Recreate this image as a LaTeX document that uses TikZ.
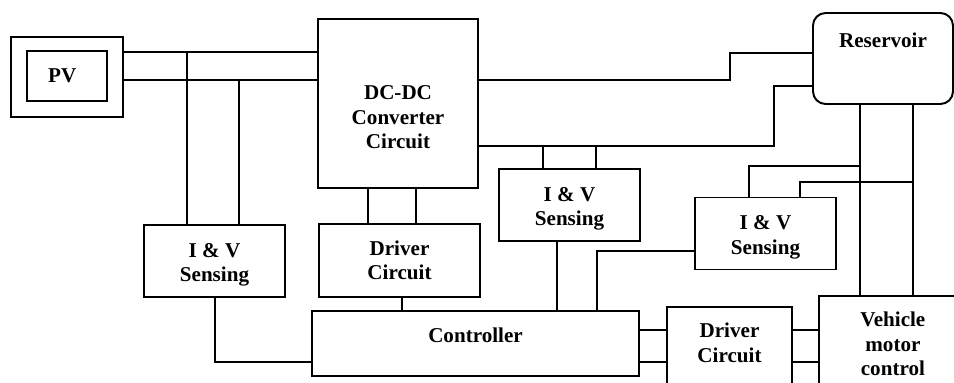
\documentclass[tikz,border=0pt]{standalone}
\usepackage{fontspec}
\setmainfont{Liberation Serif}
\usepackage{tikz}
\usetikzlibrary{positioning}

\begin{document}
\begin{tikzpicture}[
            x=0.025cm, y=-0.025cm, line width=1.4pt,
            % --- Styles for the nodes ---
            block/.style={
                draw, rectangle, line width=1.4pt, inner sep=2pt,
                align=center, font=\fontsize{15}{17.5}\selectfont\bfseries
            },
            txt/.style={align=center, font=\fontsize{15}{17.5}\selectfont\bfseries},
            sensebox/.style={block, minimum width=3.525cm, minimum height=1.8cm,
                label={[txt, yshift=-0.1cm]center:I \& V\\Sensing}}
        ]

        % --- Page frame ---
        \useasboundingbox (0,0) rectangle (954,382);
        \clip (0,0) rectangle (954,382);

        % --- Source and converter ---
        \node[block, minimum width=2.8cm, minimum height=2cm] (pvout) at (67,77) {};
        \node[block, minimum width=2cm, minimum height=1.25cm,
              label={[txt, xshift=-0.12cm]center:PV}] (pvin) at (67,76) {};
        \node[block, minimum width=4cm, minimum height=4.225cm,
              label={[txt, yshift=-0.35cm]center:DC-DC\\Converter\\Circuit}] (dcdc) at (398,103.5) {};
        \node[block, rounded corners=9pt, minimum width=3.5cm, minimum height=2.275cm,
              label={[txt, yshift=0.46cm]center:Reservoir}] (res) at (883,58.5) {};

        % --- Sensing and driver blocks ---
        \node[sensebox] (iv1) at (214.5,261) {};
        \node[block, minimum width=4.025cm, minimum height=1.825cm] (drv1) at (399.5,260.5) {Driver\\Circuit};
        \node[sensebox] (iv2) at (569.5,205) {};
        \node[sensebox] (iv3) at (765.5,233.5) {};

        % --- Bottom row ---
        \node[block, minimum width=8.175cm, minimum height=1.625cm,
              label={[txt, yshift=0.21cm]center:Controller}] (ctrl) at (475.5,343.5) {};
        \node[block, minimum width=3.125cm, minimum height=2.075cm,
              label={[txt, yshift=0.14cm]center:Driver\\Circuit}] (drv2) at (729.5,348.5) {};
        \node[block, minimum width=3.775cm, minimum height=2.6cm,
              label={[txt, yshift=0.1cm, xshift=-0.04cm]center:Vehicle\\motor\\control}] (vmc) at (894.5,348) {};

        % --- PV bus ---
        \coordinate (bushi) at (0,52);
        \coordinate (buslo) at (0,80);
        \draw (pvout.east |- bushi) -- (dcdc.west |- bushi);
        \draw (pvout.east |- buslo) -- (dcdc.west |- buslo);
        \draw (187,0 |- bushi) -- (187,0 |- iv1.north);
        \draw (239,0 |- buslo) -- (239,0 |- iv1.north);

        % --- Converter to reservoir ---
        \draw (dcdc.east |- buslo) -- (730,80) -- (730,53) -- (res.west |- 0,53);
        \draw (dcdc.east |- 0,146) -- (774,146) -- (774,86) -- (res.west |- 0,86);
        \draw (543,146) -- (543,0 |- iv2.north);
        \draw (596,146) -- (596,0 |- iv2.north);
        \draw (368,0 |- dcdc.south) -- (368,0 |- drv1.north);
        \draw (416,0 |- dcdc.south) -- (416,0 |- drv1.north);

        % --- Into the controller ---
        \draw (402,0 |- drv1.south) -- (402,0 |- ctrl.north);
        \draw (215,0 |- iv1.south) -- (215,362) -- (ctrl.west |- 0,362);
        \draw (557,0 |- iv2.south) -- (557,0 |- ctrl.north);
        \draw (597,0 |- ctrl.north) -- (597,251) -- (iv3.west |- 0,251);

        % --- Reservoir to vehicle ---
        \draw (860,0 |- res.south) -- (860,0 |- vmc.north);
        \draw (913,0 |- res.south) -- (913,0 |- vmc.north);
        \draw (749,0 |- iv3.north) -- (749,166) -- (860,166);
        \draw (800,0 |- iv3.north) -- (800,182) -- (913,182);

        % --- Controller, driver and motor ---
        \foreach \yy in {330,362} {
            \draw (ctrl.east |- 0,\yy) -- (drv2.west |- 0,\yy);
            \draw (drv2.east |- 0,\yy) -- (vmc.west |- 0,\yy);
        }

        \end{tikzpicture}
\end{document}
